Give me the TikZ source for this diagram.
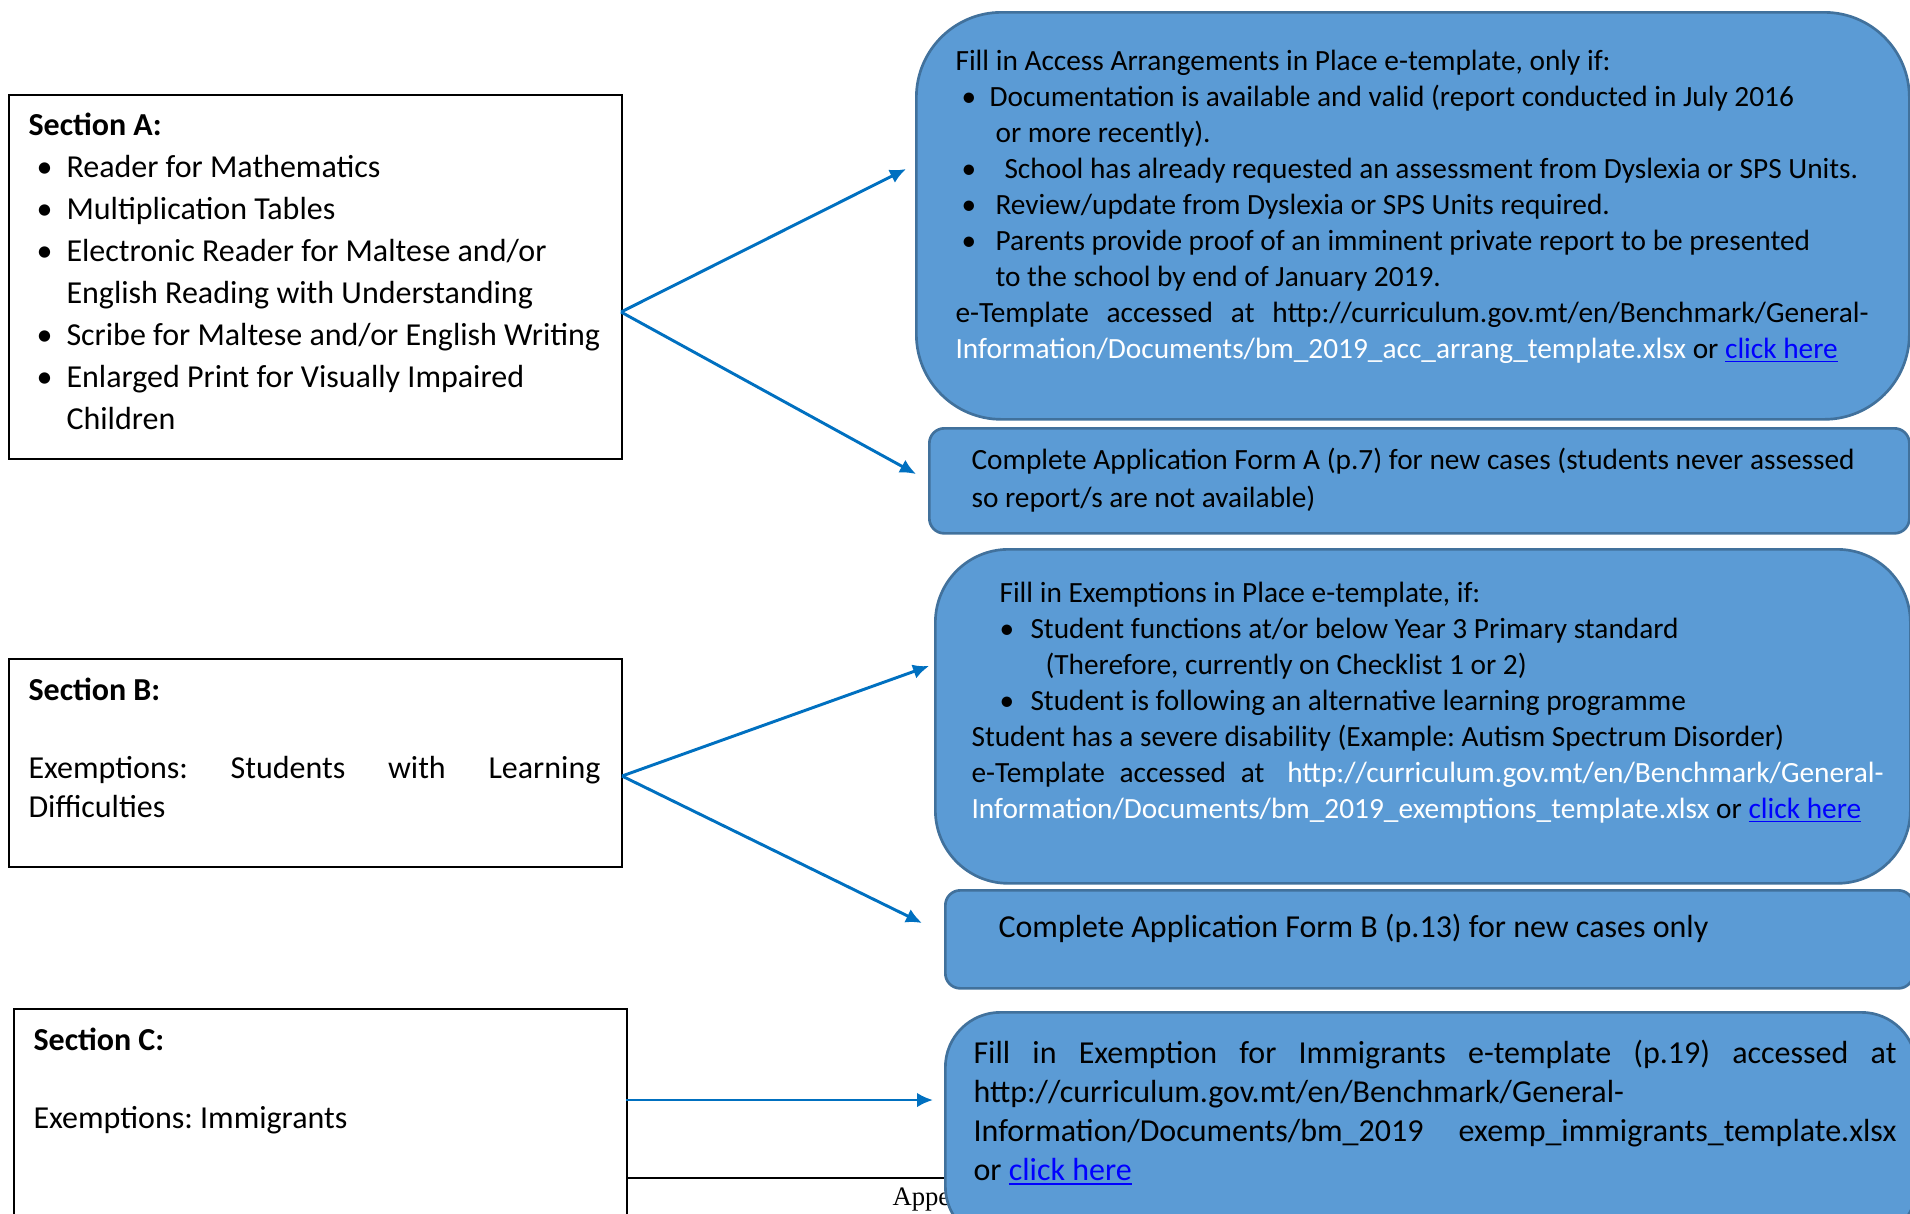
\documentclass[tikz,border=0pt]{standalone}
\usepackage{fontspec}
\setmainfont{Carlito}
\newfontfamily\appfont{Liberation Serif}
\usepackage{xcolor}
\usetikzlibrary{arrows.meta}
\definecolor{boxblue}{HTML}{5B9BD5}
\definecolor{boxedge}{HTML}{41719C}
\definecolor{arrowblue}{HTML}{0070C0}
\definecolor{linkblue}{HTML}{0000FF}
\frenchspacing
\newdimen\pxu \pxu=0.375pt
\newcommand{\pxbul}[2]{\hspace*{#1\pxu}\makebox[#2\pxu][l]{\textbullet}}
\newcommand{\pxind}[1]{\hspace*{#1\pxu}}
\newcommand{\clickhere}{\textcolor{linkblue}{\underline{click here}}}

\begin{document}
\begin{tikzpicture}[x=0.375pt,y=-0.375pt,
		secbox/.style={draw,line width=0.6pt,fill=white,inner sep=0pt,anchor=north west},
		actbox/.style={draw=boxedge,fill=boxblue,line width=1pt,inner sep=0pt,anchor=north west},
		txt/.style={anchor=base west,inner sep=0pt,align=left},
		>={Latex[length=6pt,width=5.5pt]}]
	\useasboundingbox (0,0) rectangle (1910,1213);
	\clip (0,0) rectangle (1910,1213);
	%% define section boxes (text nodes sit on the baseline of their last line)
	\node (secA) at (8,94) [secbox, minimum width=613\pxu, minimum height=364\pxu] {};
	\node (secB) at (8,658) [secbox, minimum width=613\pxu, minimum height=208\pxu] {};
	\node (secC) at (13,1008) [secbox, minimum width=613\pxu, minimum height=222\pxu] {};
	\node (secAtxt) at (28,429) [txt, font=\fontsize{12}{15.75}\selectfont] {\textbf{Section A:}\\
		\pxbul{8}{30}Reader for Mathematics\\
		\pxbul{8}{30}Multiplication Tables\\
		\pxbul{8}{30}Electronic Reader for Maltese and/or\\
		\pxind{38}English Reading with Understanding\\
		\pxbul{8}{30}Scribe for Maltese and/or English Writing\\
		\pxbul{8}{30}Enlarged Print for Visually Impaired\\
		\pxind{38}Children};
	\node (secBtxt) at (28,817) [txt, font=\fontsize{12}{14.6}\selectfont] {\textbf{Section B:}\\[39\pxu]
		\makebox[572\pxu][s]{Exemptions: Students with Learning}\\
		Difficulties};
	\node (secCtxt) at (33,1128) [txt, font=\fontsize{12}{14.6}\selectfont] {\textbf{Section C:}\\[39\pxu]
		Exemptions: Immigrants};
	%% footer
	\coordinate (ftl) at (626,1178);
	\coordinate (ftr) at (950,1178);
	\draw[line width=0.5pt] (ftl) -- (ftr);
	\node (app) at (892,1205) [txt, font=\appfont\fontsize{10}{12}\selectfont] {Appe};
	%% define action boxes
	\node (accA) at (915,11) [actbox, rounded corners=31.9pt, minimum width=993\pxu, minimum height=407\pxu] {};
	\node (formA) at (928,427) [actbox, rounded corners=5.6pt, minimum width=980\pxu, minimum height=105\pxu] {};
	\node (exB) at (934,548) [actbox, rounded corners=27.4pt, minimum width=975\pxu, minimum height=334\pxu] {};
	\node (formB) at (944,889) [actbox, rounded corners=5.6pt, minimum width=968\pxu, minimum height=98\pxu] {};
	\node (exC) at (944,1011) [actbox, rounded corners=20.6pt, minimum width=971\pxu, minimum height=229\pxu] {};
	\node (accAtxt) at (955,358) [txt, font=\fontsize{11}{13.5}\selectfont] {Fill in Access Arrangements in Place e-template, only if:\\
		\pxbul{6}{28}Documentation is available and valid (report conducted in July 2016\\
		\pxind{40}or more recently).\\
		\pxbul{6}{43}School has already requested an assessment from Dyslexia or SPS Units.\\
		\pxbul{6}{34}Review/update from Dyslexia or SPS Units required.\\
		\pxbul{6}{34}Parents provide proof of an imminent private report to be presented\\
		\pxind{40}to the school by end of January 2019.\\
		\makebox[913\pxu][s]{e-Template accessed at http://curriculum.gov.mt/en/Benchmark/General-}\\
		\textcolor{white}{Information/Documents/bm\_2019\_acc\_arrang\_template.xlsx} or \clickhere};
	\node (formAtxt) at (971,507) [txt, font=\fontsize{11}{13.9}\selectfont] {Complete Application Form A (p.7) for new cases (students never assessed\\
		so report/s are not available)};
	\node (exBtxt) at (971,818) [txt, font=\fontsize{11}{13.45}\selectfont] {\pxind{28}Fill in Exemptions in Place e-template, if:\\
		\pxbul{28}{31}Student functions at/or below Year 3 Primary standard\\
		\pxind{74}(Therefore, currently on Checklist 1 or 2)\\
		\pxbul{28}{31}Student is following an alternative learning programme\\
		Student has a severe disability (Example: Autism Spectrum Disorder)\\
		\makebox[912\pxu][s]{e-Template accessed at\hspace{8\pxu} \textcolor{white}{http://curriculum.gov.mt/en/Benchmark/General-}}\\
		\textcolor{white}{Information/Documents/bm\_2019\_exemptions\_template.xlsx} or \clickhere};
	\node (formBtxt) at (998,937) [txt, font=\fontsize{12}{14.6}\selectfont] {Complete Application Form B (p.13) for new cases only};
	\node (exCtxt) at (973,1180) [txt, font=\fontsize{12}{14.6}\selectfont] {\makebox[923\pxu][s]{Fill in Exemption for Immigrants e-template (p.19) accessed at}\\
		http://curriculum.gov.mt/en/Benchmark/General-\\
		\makebox[923\pxu][s]{Information/Documents/bm\_2019 exemp\_immigrants\_template.xlsx}\\
		or \clickhere};
	%% define arrows
	\coordinate (aout) at (621,312);
	\coordinate (bout) at (622,776);
	\coordinate (cout) at (626,1100);
	\coordinate (accAin) at (906,169);
	\coordinate (formAin) at (916,474);
	\coordinate (exBin) at (929,666);
	\coordinate (formBin) at (922,923);
	\coordinate (exCin) at (933,1100);
	\draw[->,arrowblue,line width=1.1pt] (aout) -- (accAin);
	\draw[->,arrowblue,line width=1.1pt] (aout) -- (formAin);
	\draw[->,arrowblue,line width=1.1pt] (bout) -- (exBin);
	\draw[->,arrowblue,line width=1.1pt] (bout) -- (formBin);
	\draw[->,arrowblue,line width=1.1pt] (cout) -- (exCin);
\end{tikzpicture}
\end{document}
